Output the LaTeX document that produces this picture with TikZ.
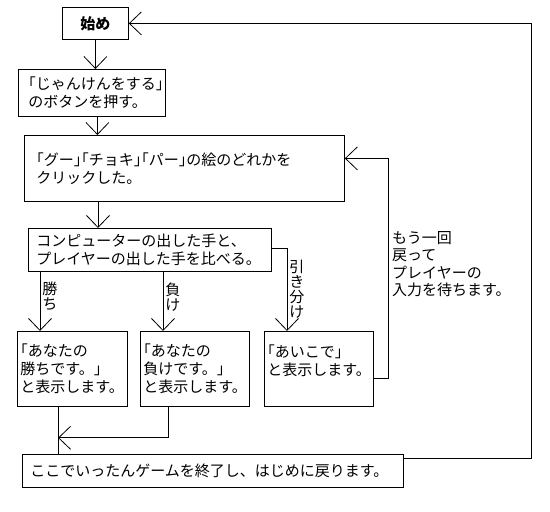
\documentclass[tikz,border=0pt]{standalone}
\usepackage{fontspec}
\setmainfont{Noto Sans CJK JP}
\newfontfamily\halfwidth{Noto Sans CJK JP}[RawFeature={+halt}]
\newcommand\kagi[1]{{\halfwidth 「}#1{\halfwidth 」}}
\usetikzlibrary{arrows.meta}

\begin{document}
\begin{tikzpicture}[x=1pt,y=-1pt,
    font=\fontsize{15}{18}\selectfont,
    line width=0.8pt,
    >={Straight Barb[length=12pt,width=23pt,line width=0.8pt]},
    box/.style={draw,rectangle,anchor=north west,align=left,inner ysep=0pt},
    lbl/.style={align=center,inner sep=2pt,font=\fontsize{15}{15}\selectfont}]
  \useasboundingbox (0,0) rectangle (550,512);

  \node[box,align=center,inner xsep=6pt,text width=54pt,minimum height=32pt] (start) at (62,7) {\bfseries 始め};
  \node[box,inner xsep=10pt,text width=127pt,minimum height=47pt] (ask) at (18,69)
    {\kagi{じゃんけんをする}\\のボタンを押す。};
  \node[box,inner xsep=12pt,text width=296pt,minimum height=66pt] (click) at (24,135)
    {\kagi{グー}\kagi{チョキ}\kagi{パー}の絵のどれかを\\クリックした。};
  \node[box,inner xsep=8pt,text width=227pt,minimum height=43pt] (cmp) at (28,228)
    {コンピューターの出した手と、\\プレイヤーの出した手を比べる。};
  \node[box,inner xsep=3pt,text width=104pt,minimum height=75pt] (win) at (17,331)
    {\kagi{あなたの\\勝ちです。}\\と表示します。};
  \node[box,inner xsep=3pt,text width=103pt,minimum height=75pt] (lose) at (140,331)
    {\kagi{あなたの\\負けです。}\\と表示します。};
  \node[box,inner xsep=3pt,text width=103pt,minimum height=75pt] (aiko) at (264,331)
    {\kagi{あいこで}\\と表示します。\\\mbox{}};
  \node[box,inner xsep=8pt,text width=365pt,minimum height=33pt] (finish) at (22,454)
    {ここでいったんゲームを終了し、はじめに戻ります。};

  % main flow
  \draw[->] (start.south) -- (start.south |- ask.north);
  \draw[->] ([xshift=5.5pt]ask.south) -- ([xshift=5.5pt]ask.south |- click.north);
  \draw[->] ([xshift=70pt]cmp.north west |- click.south) -- ([xshift=70pt]cmp.north west);

  % results
  \draw[->] ([xshift=12pt]cmp.south west) -- node[lbl,right,pos=.42] {勝\\ち}
    ([xshift=12pt]cmp.south west |- win.north);
  \draw[->] ([xshift=135pt]cmp.south west) -- node[lbl,right,pos=.42] {負\\け}
    ([xshift=135pt]cmp.south west |- lose.north);
  \draw[->] ([yshift=2pt]cmp.east) -| node[lbl,right,pos=.75] {引\\き\\分\\け}
    ([xshift=23pt]aiko.north west);

  % back to the input
  \draw[->] ([yshift=-9.5pt]aiko.east) -- ++(15,0)
    |- node[pos=.26,right,align=left,inner sep=3pt,font=\fontsize{15}{17.5}\selectfont]
       {もう一回\\戻って\\プレイヤーの\\入力を待ちます。}
    ([yshift=10pt]click.east);

  % to the end and back to start
  \coordinate (merge) at ([xshift=41pt,yshift=-31pt]win.south west);
  \draw (win.south -| merge) -- (merge |- finish.north);
  \draw[->] ([xshift=28pt]lose.south west) |- (merge);
  \draw[->] ([yshift=12.5pt]finish.east) -- ++(128,0) |- (start.east);
\end{tikzpicture}
\end{document}
